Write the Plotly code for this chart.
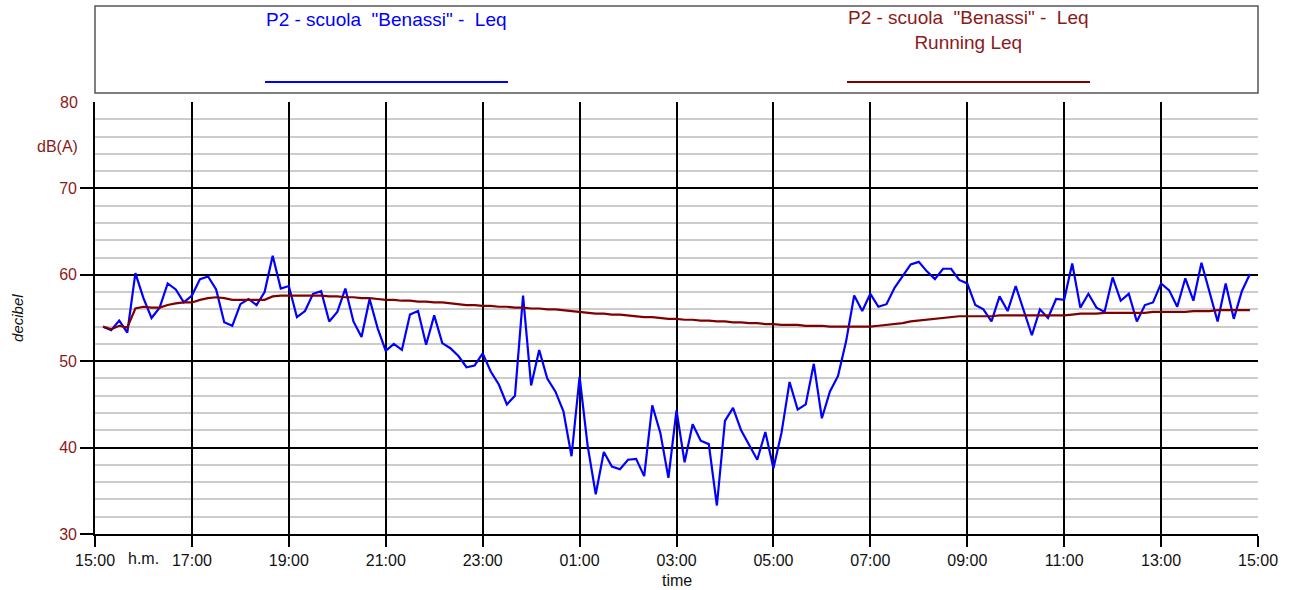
import pandas as pd
import plotly.graph_objects as go

# Leq every 10 minutes, from 15:10 to 14:50 of the next day
start = "2000-01-01 15:10"
leq = [
    54.0, 53.6, 54.7, 53.3, 60.2, 57.3, 55.0, 56.2, 59.0, 58.3, 56.8, 57.6,
    59.5, 59.8, 58.3, 54.5, 54.1, 56.6, 57.2, 56.5, 58.0, 62.2, 58.4, 58.7,
    55.1, 55.8, 57.8, 58.1, 54.6, 55.7, 58.4, 54.6, 52.8, 57.2, 53.8, 51.2,
    52.0, 51.3, 55.4, 55.8, 51.9, 55.3, 52.1, 51.5, 50.6, 49.3, 49.5, 50.9,
    48.8, 47.3, 45.0, 46.0, 57.6, 47.2, 51.3, 48.0, 46.5, 44.2, 39.0, 48.2,
    40.2, 34.6, 39.5, 37.8, 37.5, 38.6, 38.7, 36.7, 44.9, 41.7, 36.5, 44.3,
    38.3, 42.7, 40.8, 40.4, 33.3, 43.1, 44.6, 42.0, 40.3, 38.6, 41.8, 37.6,
    41.7, 47.6, 44.4, 45.0, 49.7, 43.4, 46.5, 48.3, 52.3, 57.6, 55.8, 57.8,
    56.3, 56.6, 58.5, 59.9, 61.2, 61.5, 60.4, 59.5, 60.7, 60.7, 59.4, 59.0,
    56.5, 56.0, 54.6, 57.5, 55.8, 58.7, 55.8, 53.0, 56.0, 55.0, 57.2, 57.1,
    61.3, 56.2, 57.8, 56.2, 55.7, 59.7, 57.0, 57.8, 54.6, 56.5, 56.8, 59.0,
    58.2, 56.3, 59.6, 57.0, 61.4, 58.1, 54.6, 59.0, 54.9, 58.1, 60.1,
]
running_leq = [
    54.0, 53.7, 54.1, 53.9, 56.1, 56.3, 56.2, 56.2, 56.5, 56.7, 56.8, 56.8,
    57.1, 57.3, 57.4, 57.3, 57.1, 57.1, 57.1, 57.1, 57.1, 57.5, 57.6, 57.6,
    57.6, 57.6, 57.6, 57.6, 57.5, 57.5, 57.4, 57.4, 57.3, 57.3, 57.2, 57.1,
    57.1, 57.0, 57.0, 56.9, 56.9, 56.8, 56.8, 56.7, 56.6, 56.5, 56.5, 56.4,
    56.4, 56.3, 56.3, 56.2, 56.2, 56.1, 56.1, 56.0, 56.0, 55.9, 55.8, 55.7,
    55.6, 55.5, 55.5, 55.4, 55.4, 55.3, 55.2, 55.1, 55.1, 55.0, 54.9, 54.9,
    54.8, 54.8, 54.7, 54.7, 54.6, 54.6, 54.5, 54.5, 54.4, 54.4, 54.3, 54.3,
    54.2, 54.2, 54.2, 54.1, 54.1, 54.1, 54.0, 54.0, 54.0, 54.0, 54.0, 54.0,
    54.1, 54.2, 54.3, 54.4, 54.6, 54.7, 54.8, 54.9, 55.0, 55.1, 55.2, 55.2,
    55.2, 55.2, 55.2, 55.3, 55.3, 55.3, 55.3, 55.3, 55.3, 55.3, 55.3, 55.3,
    55.4, 55.5, 55.5, 55.5, 55.6, 55.6, 55.6, 55.6, 55.6, 55.6, 55.7, 55.7,
    55.7, 55.7, 55.7, 55.8, 55.8, 55.8, 55.9, 55.9, 55.9, 55.9, 55.9,
]
times = pd.date_range(start, periods=len(leq), freq="10min")
hour_ticks = pd.date_range("2000-01-01 15:00", "2000-01-02 15:00", freq="2h")
y_ticks = [30, 40, 50, 60, 70]

name_leq = 'P2 - scuola \u00a0"Benassi" - \u00a0Leq'
name_run = 'P2 - scuola \u00a0"Benassi" - \u00a0Leq<br>Running Leq'

BLUE = "#0000ff"
DRED = "#800000"
TXTRED = "#8b1a1a"
FONT = "Liberation Sans, Arial, sans-serif"

fig = go.Figure()
fig.add_trace(go.Scatter(x=times, y=leq, mode="lines",
                         line=dict(color=BLUE, width=2.2), name="Leq"))
fig.add_trace(go.Scatter(x=times, y=running_leq, mode="lines",
                         line=dict(color=DRED, width=2.2), name="Running Leq"))

fig.update_layout(
    width=1289, height=590,
    margin=dict(l=95, r=31, t=102, b=56),
    plot_bgcolor="white", paper_bgcolor="white",
    showlegend=False,
    font=dict(family=FONT, size=16, color="#111"),
    xaxis=dict(
        type="date",
        range=[hour_ticks[0], hour_ticks[-1]],
        tickmode="array", tickvals=list(hour_ticks), tickformat="%H:%M",
        ticks="outside", ticklen=11, tickwidth=1.5, tickcolor="black",
        showgrid=True, gridcolor="black", gridwidth=1.6,
        showline=True, linecolor="black", linewidth=1.6,
        zeroline=False,
    ),
    yaxis=dict(
        range=[30, 80],
        tickmode="array", tickvals=y_ticks,
        ticks="outside", ticklen=13, tickwidth=1.5, tickcolor="black",
        tickfont=dict(color=TXTRED, size=16),
        showgrid=True, gridcolor="black", gridwidth=1.6,
        minor=dict(tickmode="linear", tick0=30, dtick=2, showgrid=True,
                   gridcolor="#cccccc", gridwidth=1.5, ticks=""),
        showline=True, linecolor="black", linewidth=1.6,
        zeroline=False,
    ),
)

# legend box drawn by hand, as in the original
fig.add_shape(type="rect", xref="paper", yref="paper",
              x0=0, x1=1, y0=1.0208, y1=1.2222,
              line=dict(color="#555", width=1.5), fillcolor="white")
fig.add_shape(type="line", xref="paper", yref="paper",
              x0=0.1462, x1=0.3551, y0=1.0463, y1=1.0463,
              line=dict(color=BLUE, width=2.2))
fig.add_shape(type="line", xref="paper", yref="paper",
              x0=0.6466, x1=0.8556, y0=1.0463, y1=1.0463,
              line=dict(color=DRED, width=2.2))

fig.add_annotation(text=name_leq, xref="paper", yref="paper",
                   x=0.2506, y=1.1921, xanchor="center", yanchor="middle",
                   showarrow=False, font=dict(size=19, color=BLUE))
fig.add_annotation(text=name_run, xref="paper", yref="paper",
                   x=0.751, y=1.1667, xanchor="center", yanchor="middle",
                   showarrow=False, font=dict(size=19, color=TXTRED))

# extra axis texts
fig.add_annotation(text="80", xref="paper", yref="y", x=0, y=80,
                   xanchor="right", yanchor="middle", xshift=-15,
                   showarrow=False, font=dict(size=16, color=TXTRED))
fig.add_annotation(text="dB(A)", xref="paper", yref="y", x=0, y=74.8,
                   xanchor="right", yanchor="middle", xshift=-15,
                   showarrow=False, font=dict(size=16, color=TXTRED))
fig.add_annotation(text="decibel", xref="paper", yref="paper",
                   x=-0.0671, y=0.5, textangle=-90,
                   xanchor="center", yanchor="middle", showarrow=False,
                   font=dict(size=15, color="#111", style="italic"))
fig.add_annotation(text="h.m.", xref="paper", yref="paper",
                   x=0.042, y=-0.0556, xanchor="center", yanchor="middle",
                   showarrow=False, font=dict(size=16, color="#111"))
fig.add_annotation(text="time", xref="paper", yref="paper",
                   x=0.5, y=-0.1076, xanchor="center", yanchor="middle",
                   showarrow=False, font=dict(size=16, color="#111"))

# drop the default body margin so the figure sits at the window corner
fig.write_html("out.html", config={"displayModeBar": False},
               post_script="document.body.style.margin='0';")
